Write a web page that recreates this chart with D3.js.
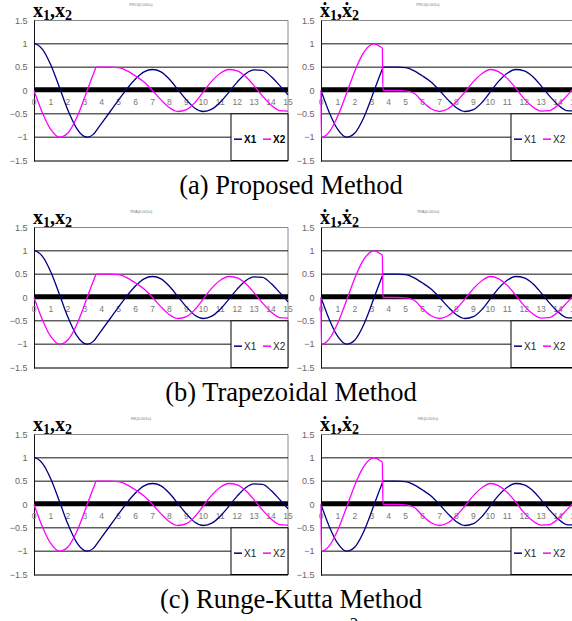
<!DOCTYPE html>
<html>
<head>
<meta charset="utf-8">
<script src="https://cdn.jsdelivr.net/npm/d3@7"></script>
<style>
body{margin:0;background:#fff}
svg{display:block}
</style>
</head>
<body>
<svg id="fig" width="572" height="621"></svg>
<script>
// time samples (s); extra points at the kinks near 0, 3.14 and 3.66
var time = [0, 0.02, 0.5, 1, 1.5, 2, 2.5, 3, 3.14, 3.5, 3.62, 3.66,
	4, 4.5, 5, 5.5, 6, 6.5, 7, 7.5, 8, 8.5, 9, 9.5, 10, 10.5, 11, 11.5, 12, 12.5, 13, 13.5, 14, 14.5, 15]
// left plots: x1, x2
var x1 = [1.00, 1.00, 0.88, 0.54, 0.07, -0.42, -0.80, -0.99, -1.00, -0.94, -0.89, -0.87,
	-0.70, -0.45, -0.20, 0.04, 0.25, 0.40, 0.45, 0.40, 0.24, 0.02, -0.20, -0.38, -0.45, -0.40, -0.25, -0.04, 0.18, 0.36, 0.44, 0.43, 0.30, 0.11, -0.09]
var x2 = [0.00, -0.02, -0.48, -0.84, -1.00, -0.91, -0.60, -0.14, 0.00, 0.35, 0.46, 0.50,
	0.50, 0.50, 0.49, 0.42, 0.31, 0.18, 0.00, -0.20, -0.37, -0.45, -0.41, -0.26, -0.03, 0.20, 0.37, 0.45, 0.42, 0.30, 0.10, -0.12, -0.31, -0.43, -0.44]
// right plots: x1 dot, x2 dot
var dx1 = [0.00, -0.02, -0.48, -0.84, -1.00, -0.91, -0.60, -0.14, 0.00, 0.35, 0.46, 0.50,
	0.50, 0.50, 0.49, 0.42, 0.31, 0.18, 0.00, -0.20, -0.37, -0.45, -0.41, -0.26, -0.03, 0.20, 0.37, 0.45, 0.42, 0.30, 0.10, -0.12, -0.31, -0.43, -0.44]
var dx2 = [0.00, -1.00, -0.88, -0.54, -0.07, 0.42, 0.80, 0.99, 1.00, 0.94, 0.90, 0.00,
	0.00, 0.00, -0.01, -0.06, -0.24, -0.39, -0.45, -0.39, -0.24, -0.03, 0.19, 0.36, 0.45, 0.40, 0.26, 0.05, -0.18, -0.35, -0.44, -0.43, -0.31, -0.12, 0.08]

var xTicks = [0,1,2,3,4,5,6,7,8,9,10,11,12,13,14,15]
var yTicks = [1.5, 1, 0.5, 0, -0.5, -1, -1.5]
var yLabels = ['1.5','1','0.5','0','\u22120.5','\u22121','\u22121.5']
var gridVals = [1, 0.5, -0.5, -1]
var methods = ['PRO(0.001s)','TRA(0.001s)','RK(0.001s)']
var captions = ['(a) Proposed Method','(b) Trapezoidal Method','(c) Runge-Kutta Method']
var seriesNames = ['X1','X2']
var colors = ['#000080','#FF00FF']

var svg = d3.select('#fig')
var W = 254, rowStep = 207

function panel(x0, yOff, series, dotted, title, legendX, boldLegend){
	var g = svg.append('g')
	var x = d3.scaleLinear().domain([0,15]).range([x0, x0+W])
	var y = d3.scaleLinear().domain([-1.5,1.5]).range([yOff+160.5, yOff+20.5])

	// tiny chart title
	g.append('text').attr('x', x0+107).attr('y', yOff+5.5)
		.attr('text-anchor','middle').style('font','4px "Liberation Sans",Arial')
		.style('fill','#777').text(title)

	// frame
	g.append('line').attr('x1',x0).attr('x2',x0+W).attr('y1',y(1.5)).attr('y2',y(1.5))
		.style('stroke','#888').style('stroke-width',1)
	g.append('line').attr('x1',x0+W).attr('x2',x0+W).attr('y1',y(1.5)).attr('y2',y(-1.5))
		.style('stroke','#888').style('stroke-width',1)
	g.append('line').attr('x1',x0).attr('x2',x0+W).attr('y1',y(-1.5)+0.5).attr('y2',y(-1.5)+0.5)
		.style('stroke','#777').style('stroke-width',2)

	g.selectAll('line.grid').data(gridVals).enter().append('line').attr('class','grid')
		.attr('x1',x0).attr('x2',x0+W).attr('y1',d=>y(d)).attr('y2',d=>y(d))
		.style('stroke','#111').style('stroke-width',1)

	g.append('line').attr('x1',x0+0.5).attr('x2',x0+0.5).attr('y1',y(1.5)).attr('y2',y(-1.5)+1)
		.style('stroke','#111').style('stroke-width',1)

	// y tick labels
	g.selectAll('text.yl').data(yTicks).enter().append('text').attr('class','yl')
		.attr('x', x0-6.5).attr('y', d=>y(d)+3)
		.attr('text-anchor','end').style('font','9px "Liberation Sans",Arial').style('fill','#666')
		.text((d,i)=>yLabels[i])

	// x tick labels, sitting just under the zero line
	g.selectAll('text.xl').data(xTicks).enter().append('text').attr('class','xl')
		.attr('x', d=>x(d)).attr('y', y(0)+14)
		.attr('text-anchor','middle').style('font','8.5px "Liberation Sans",Arial').style('fill','#777')
		.text(d=>d)

	// thick zero line
	g.append('line').attr('x1',x0).attr('x2',x0+W).attr('y1',y(0)-0.8).attr('y2',y(0)-0.8)
		.style('stroke','#000').style('stroke-width',5)

	var line = d3.line().x((d,i)=>x(time[i])).y(d=>y(d)).curve(d3.curveMonotoneX)
	series.forEach(function(s,k){
		g.append('path').attr('d', line(s))
			.style('fill','none').style('stroke',colors[k]).style('stroke-width',1.3)
	})

	// legend
	var ly = y(-0.5), lh = y(-1.5)-y(-0.5)
	g.append('rect').attr('x',legendX).attr('y',ly).attr('width',x0+W-legendX).attr('height',lh)
		.style('fill','#fff').style('stroke','#000').style('stroke-width',1)
	var cy = ly + lh/2 + 2
	seriesNames.forEach(function(n,k){
		var lx = legendX + 3 + k*29
		g.append('line').attr('x1',lx).attr('x2',lx+8).attr('y1',cy).attr('y2',cy)
			.style('stroke',colors[k]).style('stroke-width',1.5)
		g.append('text').attr('x',lx+10).attr('y',cy+3.5)
			.style('font',(boldLegend?'bold 10px':'10px')+' "Liberation Sans",Arial')
			.style('fill',boldLegend?'#000':'#222').text(n)
	})

	// axis label
	var lab = g.append('text').attr('x', x0-1).attr('y', yOff+16.5)
		.style('font-family','"Liberation Serif","DejaVu Serif",serif').style('font-weight','bold')
		.style('font-size','20px').style('fill','#000')
	var sym = dotted ? '\u1E8B' : 'x'
	lab.append('tspan').text(sym)
	lab.append('tspan').attr('dy',3.5).style('font-size','14px').text('1')
	lab.append('tspan').attr('dy',-3.5).text(','+sym)
	lab.append('tspan').attr('dy',3.5).style('font-size','14px').text('2')
}

for (var r=0; r<3; r++){
	var off = r*rowStep
	panel(34, off, [x1, x2], false, methods[r], 231, r==0)
	panel(321, off, [dx1, dx2], true, methods[r], 511, false)
	svg.append('text').attr('x',291).attr('y',194+off).attr('text-anchor','middle')
		.style('font','26.5px "Liberation Serif","Times New Roman",serif').style('fill','#000')
		.text(captions[r])
}
svg.append('text').attr('x',350).attr('y',629)
	.style('font','16px "Liberation Serif",serif').text('2')
</script>
</body>
</html>
